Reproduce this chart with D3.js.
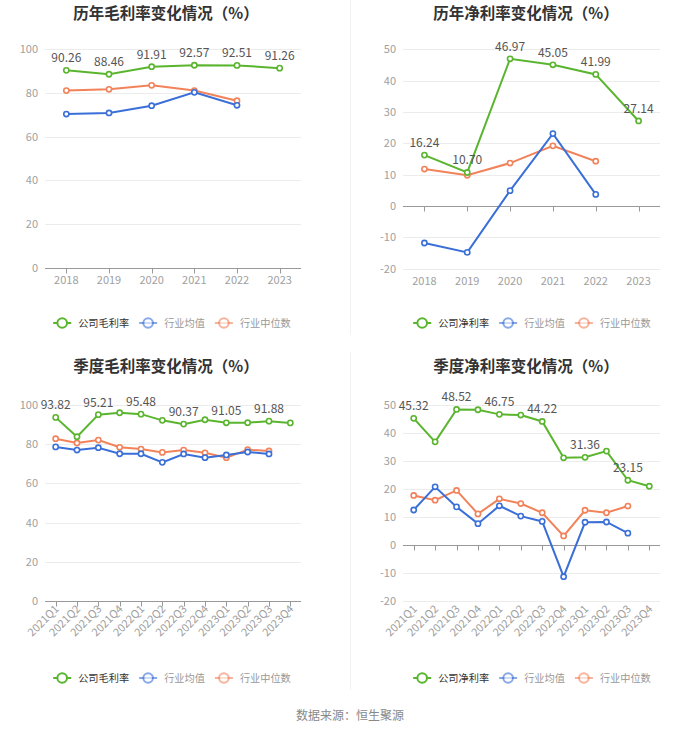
<!DOCTYPE html>
<html><head><meta charset="utf-8">
<script src="https://cdn.jsdelivr.net/npm/d3@7/dist/d3.min.js"></script>
<style>
body{margin:0;background:#fff;}
svg{display:block;font-family:"Noto Sans CJK SC","Noto Sans",sans-serif;}
</style></head>
<body><svg id="c" width="700" height="733"></svg>
<script>
const years = ["2018","2019","2020","2021","2022","2023"];
const quarters = ["2021Q1","2021Q2","2021Q3","2021Q4","2022Q1","2022Q2","2022Q3","2022Q4","2023Q1","2023Q2","2023Q3","2023Q4"];

const yearGrossCompany = [90.26, 88.46, 91.91, 92.57, 92.51, 91.26];
const yearGrossAvg = [70.3, 70.8, 74.1, 80.2, 74.3];
const yearGrossMedian = [81.0, 81.6, 83.4, 81.0, 76.4];

const yearNetCompany = [16.24, 10.70, 46.97, 45.05, 41.99, 27.14];
const yearNetAvg = [-11.8, -14.8, 4.9, 23.1, 3.7];
const yearNetMedian = [11.8, 9.8, 13.7, 19.2, 14.3];

const qGrossCompany = [93.82, 83.9, 95.21, 96.2, 95.48, 92.3, 90.37, 92.6, 91.05, 91.1, 91.88, 91.0];
const qGrossAvg = [78.7, 77.1, 78.3, 75.2, 75.2, 70.8, 75.1, 73.2, 74.6, 76.1, 75.1];
const qGrossMedian = [82.9, 80.7, 82.2, 78.5, 77.6, 75.9, 77.1, 75.7, 73.2, 77.3, 76.6];

const qNetCompany = [45.32, 36.9, 48.52, 48.4, 46.75, 46.5, 44.22, 31.2, 31.36, 33.6, 23.15, 21.0];
const qNetAvg = [12.5, 20.8, 13.6, 7.6, 14.0, 10.3, 8.4, -11.4, 8.1, 8.2, 4.2];
const qNetMedian = [17.7, 16.0, 19.5, 11.1, 16.5, 14.8, 11.5, 3.2, 12.4, 11.5, 13.9];

const grossTicks = [0, 20, 40, 60, 80, 100];
const netTicks = [-20, -10, 0, 10, 20, 30, 40, 50];

const GREEN = "#5ab52e", BLUE = "#3a6fd8", ORANGE = "#f2825a";

const svg = d3.select("#c");

// faint separators
svg.append("line").attr("x1",350.5).attr("x2",350.5).attr("y1",0).attr("y2",335).attr("stroke","#f2f2f2");
svg.append("line").attr("x1",350.5).attr("x2",350.5).attr("y1",352).attr("y2",690).attr("stroke","#f2f2f2");

function drawChart(cfg){
  const g = svg.append("g");
  const x = d3.scalePoint().domain(cfg.cats).range([cfg.x0, cfg.x1]).padding(0.5);
  const y = d3.scaleLinear().domain(cfg.ydom).range([cfg.yb, cfg.yt]);

  g.append("text").attr("x", cfg.tx).attr("y", cfg.ty).attr("text-anchor","middle")
    .attr("font-size",15.5).attr("font-weight","bold").attr("fill","#333").text(cfg.title);

  // grid
  g.selectAll(".grid").data(cfg.ticks.filter(t=>t!==0)).enter().append("line")
    .attr("x1",cfg.x0).attr("x2",cfg.x1).attr("y1",d=>Math.round(y(d))+0.5).attr("y2",d=>Math.round(y(d))+0.5)
    .attr("stroke","#ececec");
  // y labels
  g.selectAll(".yl").data(cfg.ticks).enter().append("text")
    .attr("x",cfg.x0-7).attr("y",d=>y(d)+4).attr("text-anchor","end")
    .attr("font-size",11).attr("fill","#a0a0a0").text(d=>d);
  // zero axis
  const y0 = Math.round(y(0))+0.5;
  g.append("line").attr("x1",cfg.x0).attr("x2",cfg.x1).attr("y1",y0).attr("y2",y0).attr("stroke","#999");
  g.selectAll(".tk").data(cfg.cats).enter().append("line")
    .attr("x1",d=>Math.round(x(d))+0.5).attr("x2",d=>Math.round(x(d))+0.5)
    .attr("y1",y0).attr("y2",y0+5).attr("stroke","#999");
  // x labels
  const yb = cfg.yb;
  if(cfg.rotate){
    g.selectAll(".xl").data(cfg.cats).enter().append("text")
      .attr("transform",d=>`translate(${x(d)+4},${yb+9}) rotate(-45)`)
      .attr("text-anchor","end").attr("font-size",11).attr("fill","#a0a0a0").text(d=>d);
  } else {
    g.selectAll(".xl").data(cfg.cats).enter().append("text")
      .attr("x",d=>x(d)).attr("y",yb+16).attr("text-anchor","middle")
      .attr("font-size",11).attr("fill","#a0a0a0").text(d=>d);
  }

  const line = d3.line().x(d=>x(d.c)).y(d=>y(d.v));
  const series = [
    {vals:cfg.median, color:ORANGE},
    {vals:cfg.avg, color:BLUE},
    {vals:cfg.company, color:GREEN}
  ];
  series.forEach(s=>{
    const pts = s.vals.map((v,i)=>({c:cfg.cats[i], v}));
    g.append("path").datum(pts).attr("d",line).attr("fill","none")
      .attr("stroke",s.color).attr("stroke-width",2);
    g.selectAll(null).data(pts).enter().append("circle")
      .attr("cx",d=>x(d.c)).attr("cy",d=>y(d.v)).attr("r",2.6)
      .attr("fill","#fff").attr("stroke",s.color).attr("stroke-width",1.6);
  });
  // labels
  const lp = cfg.company.map((v,i)=>({c:cfg.cats[i], v, i})).filter(d=>cfg.labelIdx.includes(d.i));
  g.selectAll(".dl").data(lp).enter().append("text")
    .attr("x",d=>x(d.c)).attr("y",d=>y(d.v)-8).attr("text-anchor","middle")
    .attr("font-size",12).attr("fill","#555").text(d=>d.v.toFixed(2));

  // legend
  const items = [
    {name:cfg.legendName, color:GREEN, tc:"#333", op:1},
    {name:"行业均值", color:BLUE, tc:"#999", op:0.6},
    {name:"行业中位数", color:ORANGE, tc:"#999", op:0.6}
  ];
  const lg = g.append("g");
  let cx = 0;
  items.forEach(it=>{
    const ig = lg.append("g").attr("transform",`translate(${cx},0)`);
    ig.append("line").attr("x1",0).attr("x2",18).attr("y1",0).attr("y2",0)
      .attr("stroke",it.color).attr("stroke-width",2).attr("opacity",it.op);
    ig.append("circle").attr("cx",9).attr("cy",0).attr("r",4.8).attr("fill","#fff")
      .attr("stroke",it.color).attr("stroke-width",2).attr("opacity",it.op);
    const t = ig.append("text").attr("x",25).attr("y",4).attr("font-size",10.2)
      .attr("fill",it.tc).text(it.name);
    cx += 25 + t.node().getComputedTextLength() + 10;
  });
  const totalW = cx - 10;
  lg.attr("transform",`translate(${cfg.lx - totalW/2},${cfg.ly})`);
}

drawChart({title:"历年毛利率变化情况（%）", cats:years, x0:45, x1:301, ydom:[0,100], yb:268, yt:49,
  ticks:grossTicks, tx:166, ty:19, company:yearGrossCompany, avg:yearGrossAvg, median:yearGrossMedian,
  labelIdx:[0,1,2,3,4,5], legendName:"公司毛利率", lx:172, ly:323, rotate:false});
drawChart({title:"历年净利率变化情况（%）", cats:years, x0:403, x1:660, ydom:[-20,50], yb:268.7, yt:49.3,
  ticks:netTicks, tx:526, ty:19, company:yearNetCompany, avg:yearNetAvg, median:yearNetMedian,
  labelIdx:[0,1,2,3,4,5], legendName:"公司净利率", lx:532, ly:323, rotate:false});
drawChart({title:"季度毛利率变化情况（%）", cats:quarters, x0:45, x1:301, ydom:[0,100], yb:600.7, yt:405.3,
  ticks:grossTicks, tx:166, ty:372, company:qGrossCompany, avg:qGrossAvg, median:qGrossMedian,
  labelIdx:[0,2,4,6,8,10], legendName:"公司毛利率", lx:172, ly:678, rotate:true});
drawChart({title:"季度净利率变化情况（%）", cats:quarters, x0:403, x1:660, ydom:[-20,50], yb:600.7, yt:405.3,
  ticks:netTicks, tx:526, ty:372, company:qNetCompany, avg:qNetAvg, median:qNetMedian,
  labelIdx:[0,2,4,6,8,10], legendName:"公司净利率", lx:532, ly:678, rotate:true});

svg.append("text").attr("x",350).attr("y",720).attr("text-anchor","middle")
  .attr("font-size",12).attr("fill","#888").text("数据来源：恒生聚源");
</script></body></html>
